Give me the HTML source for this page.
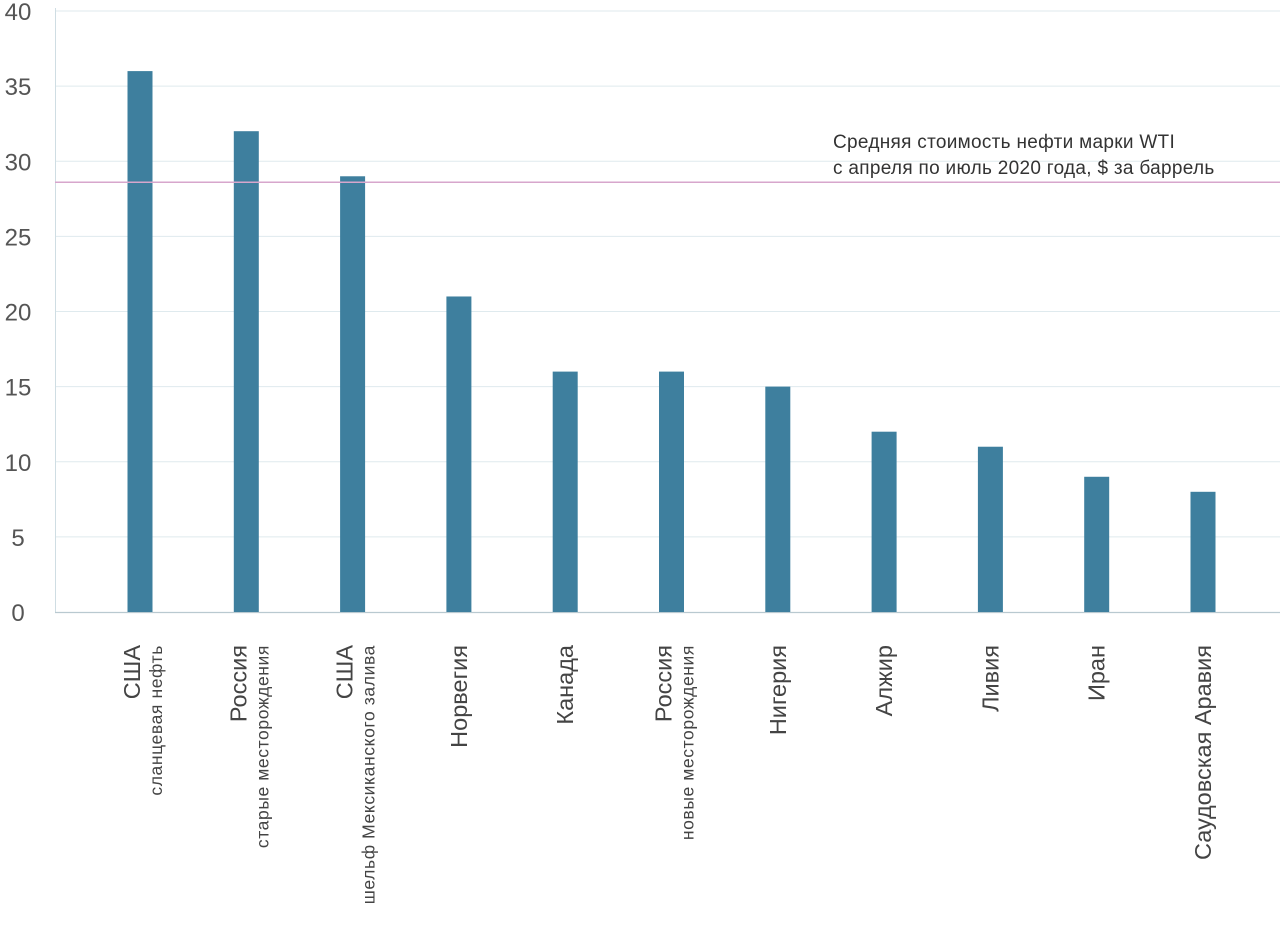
<!DOCTYPE html>
<html><head><meta charset="utf-8"><style>
html,body{margin:0;padding:0;background:#fff;}
svg{display:block;font-family:"Liberation Sans","DejaVu Sans",sans-serif;}
</style></head><body>
<svg id="chart" width="1280" height="925" viewBox="0 0 1280 925" xmlns="http://www.w3.org/2000/svg">
<g id="grid"></g>
<g id="yticks"></g>
<line x1="55.5" y1="8" x2="55.5" y2="612" stroke="#cfdde3" stroke-width="1"/>
<line x1="55" y1="612.5" x2="1280" y2="612.5" stroke="#b9c9d0" stroke-width="1.2"/>
<g id="bars"></g>
<g id="labels"></g>
<line id="wti" x1="55" x2="1280" stroke="#d7a6cc" stroke-width="1.5"/>
<text x="833" y="148" font-size="19" letter-spacing="0.3" fill="#333">Средняя стоимость нефти марки WTI</text>
<text x="833" y="174" font-size="19" letter-spacing="0.3" fill="#333">с апреля по июль 2020 года, $ за баррель</text>
</svg>
<script>
const categories = ["США","Россия","США","Норвегия","Канада","Россия","Нигерия","Алжир","Ливия","Иран","Саудовская Аравия"];
const subtitles = ["сланцевая нефть","старые месторождения","шельф Мексиканского залива","","","новые месторождения","","","","",""];
const values = [36,32,29,21,16,16,15,12,11,9,8];
const wtiAverage = 28.6;
const yTicks = [0,5,10,15,20,25,30,35,40];

const NS = "http://www.w3.org/2000/svg";
const y0 = 612, yTop = 11, yMax = 40;
function yScale(v){ return y0 - (y0 - yTop) * v / yMax; }
const x0 = 140, step = 106.3, barW = 25;
function xScale(i){ return x0 + i * step; }
function mk(tag, attrs, parent){ const e = document.createElementNS(NS, tag); for (const k in attrs) e.setAttribute(k, attrs[k]); parent.appendChild(e); return e; }

const grid = document.getElementById('grid'), yt = document.getElementById('yticks');
yTicks.forEach(t => {
  const y = yScale(t);
  if (t > 0) {
    const l = mk('line', {x1:55, x2:1280, y1:y, y2:y, stroke:'#dfeaee', 'stroke-width':1}, grid);
    
    
  }
  const tx = mk('text', {x:18, y:y+9, 'font-size':24, fill:'#555', 'text-anchor':'middle'}, yt);
  tx.textContent = t;
  
  
});

const bars = document.getElementById('bars'), labels = document.getElementById('labels');
values.forEach((v, i) => {
  const cx = xScale(i);
  const r = mk('rect', {x:cx - barW/2, y:yScale(v), width:barW, height:y0 - yScale(v), fill:'#3e7f9e'}, bars);
  
  
  const hasSub = subtitles[i] !== "";
  const bx = hasSub ? cx : cx + 8;
  const t = mk('text', {x:bx, y:645, 'font-size':23.5, fill:'#444', 'text-anchor':'end', transform:`rotate(-90 ${bx} 645)`}, labels);
  t.textContent = categories[i];
  
  
  if (hasSub) {
    const sx = cx + 22;
    const s = mk('text', {x:sx, y:645, 'font-size':17.5, 'letter-spacing':0.6, fill:'#444', 'text-anchor':'end', transform:`rotate(-90 ${sx} 645)`}, labels);
    s.textContent = subtitles[i];
    
    
  }
});
const w = document.getElementById('wti');
w.setAttribute('y1', yScale(wtiAverage));
w.setAttribute('y2', yScale(wtiAverage));
</script>
</body></html>
